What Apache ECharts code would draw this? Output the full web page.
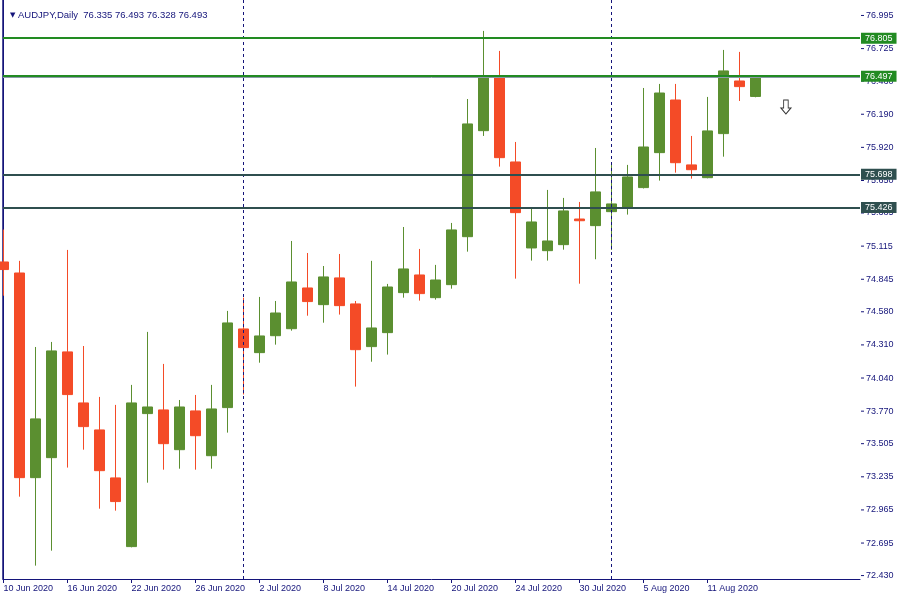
<!DOCTYPE html>
<html><head><meta charset="utf-8">
<script src="https://cdn.jsdelivr.net/npm/echarts@6/dist/echarts.min.js"></script>
<style>html,body{margin:0;padding:0;background:#fff}#c{width:900px;height:600px}</style>
</head><body><div id="c"></div>
<script>
const symbolName = 'AUDJPY';
const timeframe = 'Daily';
const dates = [
 '2020-06-10','2020-06-11','2020-06-12','2020-06-15','2020-06-16','2020-06-17','2020-06-18','2020-06-19',
 '2020-06-22','2020-06-23','2020-06-24','2020-06-25','2020-06-26','2020-06-29','2020-06-30',
 '2020-07-01','2020-07-02','2020-07-03','2020-07-06','2020-07-07','2020-07-08','2020-07-09','2020-07-10',
 '2020-07-13','2020-07-14','2020-07-15','2020-07-16','2020-07-17','2020-07-20','2020-07-21','2020-07-22',
 '2020-07-23','2020-07-24','2020-07-27','2020-07-28','2020-07-29','2020-07-30','2020-07-31',
 '2020-08-03','2020-08-04','2020-08-05','2020-08-06','2020-08-07','2020-08-10','2020-08-11','2020-08-12',
 '2020-08-13','2020-08-14'
];
const opens = [74.986,74.896,73.228,73.391,74.253,73.837,73.617,73.226,72.666,73.750,73.780,73.456,73.772,73.407,73.799,
 74.440,74.247,74.385,74.442,74.774,74.638,74.856,74.644,74.296,74.410,74.736,74.880,74.695,74.801,75.192,76.056,
 76.496,75.801,75.100,75.078,75.127,75.336,75.282,75.396,75.434,75.592,75.877,76.306,75.777,75.673,76.032,76.461,76.335];
const highs = [75.250,74.995,74.293,74.334,75.084,74.301,73.886,73.821,73.984,74.416,74.155,73.861,73.902,73.984,74.587,
 74.695,74.701,74.668,75.157,75.059,74.953,75.051,74.668,74.995,74.807,75.271,75.092,74.962,75.304,76.314,76.869,
 76.706,75.964,75.424,75.573,75.508,75.475,75.915,75.799,75.777,76.404,76.437,76.437,76.013,76.331,76.714,76.698,76.493];
const lows = [74.711,73.073,72.511,72.633,73.310,73.456,72.975,72.959,72.660,73.187,73.293,73.301,73.293,73.301,73.595,
 73.906,74.165,74.312,74.426,74.548,74.491,74.557,73.970,74.173,74.231,74.695,74.671,74.679,74.768,75.070,76.013,
 75.763,74.850,74.997,74.997,75.086,74.809,75.008,75.084,75.372,75.585,75.649,75.714,75.665,75.668,75.844,76.298,76.328];
const closes = [74.924,73.228,73.707,74.261,73.905,73.644,73.285,73.033,73.837,73.804,73.505,73.804,73.570,73.788,74.489,
 74.288,74.383,74.570,74.823,74.663,74.864,74.630,74.271,74.448,74.782,74.929,74.728,74.839,75.247,76.111,76.496,
 75.836,75.388,75.312,75.157,75.402,75.322,75.557,75.459,75.679,75.923,76.363,75.795,75.738,76.054,76.543,76.415,76.493];
const priceTicks = [76.995,76.725,76.460,76.190,75.920,75.650,75.385,75.115,74.845,74.580,74.310,74.040,73.770,73.505,73.235,72.965,72.695,72.430];
const greenLevels = [76.805, 76.497];
const slateLevels = [75.698, 75.426];
const bidPrice = 76.493;
const sellArrow = [48.9, 76.249];

const monthNames = ['Jan','Feb','Mar','Apr','May','Jun','Jul','Aug','Sep','Oct','Nov','Dec'];
const fmtDate = s => { const [y,m,d] = s.split('-'); return (+d) + ' ' + monthNames[+m-1] + ' ' + y; };
const labelIdx = dates.map((d,i)=>i).filter(i => i % 4 === 0);
const separators = dates.map((d,i)=>i).filter(i => i > 0 && dates[i].slice(5,7) !== dates[i-1].slice(5,7));

const navy = '#14147a';
const bull = '#5b8f30';
const bear = '#f44b27';
const green = '#228b22';
const slate = '#2f4f4f';
const FONT = 'Liberation Sans';

const last = dates.length - 1;
const titleText = '{tri|▼} ' + symbolName + ',' + timeframe + '  ' +
  [opens[last], highs[last], lows[last], closes[last]].map(v => v.toFixed(3)).join(' ');

const levelLabel = (bg, v) => ({
  show: true, position: 'end', distance: 1, formatter: () => v.toFixed(3),
  color: '#fff', backgroundColor: bg, fontFamily: FONT, fontSize: 9,
  padding: [1, 4, 0, 4], lineHeight: 10
});

const chart = echarts.init(document.getElementById('c'));
chart.setOption({
  animation: false,
  backgroundColor: '#fff',
  title: {
    text: titleText, left: 5, top: 5,
    textStyle: { fontFamily: FONT, fontSize: 9.5, fontWeight: 'normal', color: navy,
      rich: { tri: { fontFamily: 'DejaVu Sans', fontSize: 7, color: navy } } }
  },
  grid: { left: 3, right: 40, top: 0, bottom: 21, show: false },
  xAxis: {
    type: 'value', min: -0.03125, max: 53.53,
    axisLine: { show: true, lineStyle: { color: navy, width: 1 } },
    splitLine: { show: false },
    axisTick: { show: true, customValues: labelIdx, length: 4, inside: false, lineStyle: { color: navy } },
    axisLabel: { customValues: labelIdx, formatter: v => fmtDate(dates[Math.round(v)]),
      align: 'left', margin: 5, color: navy, fontFamily: FONT, fontSize: 9 }
  },
  yAxis: [{
    type: 'value', position: 'right', min: 72.402, max: 77.121, scale: true,
    axisLine: { show: true, lineStyle: { color: navy, width: 1 } },
    splitLine: { show: false },
    axisTick: { show: false },
    axisLabel: { customValues: priceTicks, formatter: v => '{t|}{g|}' + v.toFixed(3), margin: 1,
      color: navy, fontFamily: FONT, fontSize: 9,
      rich: { t: { width: 3, height: 1, backgroundColor: navy }, g: { width: 2 } } }
  }, {
    type: 'value', position: 'left', min: 72.402, max: 77.121,
    axisLine: { show: true, onZero: false, lineStyle: { color: navy, width: 1.5 } },
    axisTick: { show: false }, axisLabel: { show: false }, splitLine: { show: false }
  }],
  series: [{
    type: 'candlestick',
    data: dates.map((d, i) => [i, opens[i], closes[i], lows[i], highs[i]]),
    barWidth: 10,
    clip: true,
    itemStyle: { color: bull, color0: bear, borderColor: bull, borderColor0: bear, borderWidth: 1 },
    markLine: {
      silent: true, animation: false, symbol: ['none', 'none'],
      data: [
        ...separators.map(i => ({ xAxis: i, lineStyle: { color: navy, width: 1, type: [3, 3] }, label: { show: false } })),
        { yAxis: bidPrice, lineStyle: { color: '#8a9aa8', width: 1, type: 'solid' }, label: { show: false } },
        ...greenLevels.map(v => ({ yAxis: v, lineStyle: { color: green, width: 2, type: 'solid' }, label: levelLabel(green, v) })),
        ...slateLevels.map(v => ({ yAxis: v, lineStyle: { color: slate, width: 2, type: 'solid' }, label: levelLabel(slate, v) }))
      ]
    }
  }, {
    type: 'scatter',
    data: [sellArrow],
    symbol: 'path://M3,0 L8,0 L8,8 L11,8 L5.5,14 L0,8 L3,8 Z',
    symbolSize: [10, 14],
    itemStyle: { color: '#fff', borderColor: '#000', borderWidth: 1 },
    silent: true
  }]
});
</script>
</body></html>
